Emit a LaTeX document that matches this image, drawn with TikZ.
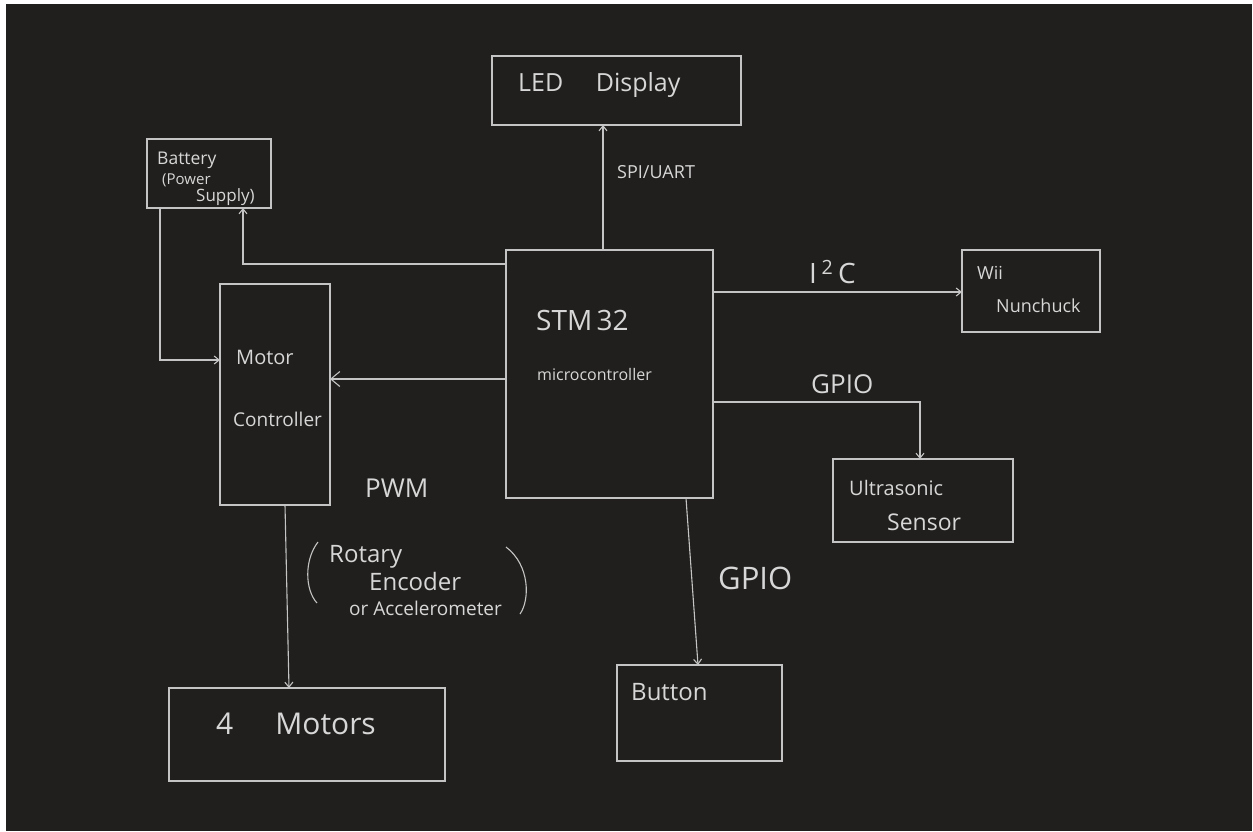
\documentclass[tikz,border=0pt]{standalone}
\usepackage{fontspec}
\setmainfont{Open Sans}
\usetikzlibrary{arrows.meta}
\definecolor{bg}{RGB}{32,31,29}
\definecolor{ln}{RGB}{196,196,196}
\definecolor{tx}{RGB}{215,215,215}
\newcommand{\fs}[1]{\fontsize{#1}{#1}\selectfont}
\begin{document}
\begin{tikzpicture}[x=1pt,y=-1pt,
  box/.style={draw=ln,line width=1.2pt,inner sep=0pt,outer sep=0pt},
  lbl/.style={text=tx,inner sep=0pt,anchor=west},
  wire/.style={draw=ln,line width=1.1pt},
  arr/.style={wire,-{Straight Barb[length=5pt,width=8pt]}},
  bigarr/.style={wire,-{Straight Barb[length=9pt,width=15pt]}}]
\useasboundingbox (0,0) rectangle (1253,831);
\fill[white] (0,0) rectangle (1253,831);
\fill[bg] (6,4) rectangle (1252,831);
% boxes
\node[box,minimum width=249pt,minimum height=69pt,anchor=north west] (led) at (492,56) {};
\node[box,minimum width=124pt,minimum height=69pt,anchor=north west] (bat) at (147,139) {};
\node[box,minimum width=207pt,minimum height=248pt,anchor=north west] (stm) at (506,250) {};
\node[box,minimum width=110pt,minimum height=221pt,anchor=north west] (mc) at (220,284) {};
\node[box,minimum width=138pt,minimum height=82pt,anchor=north west] (wii) at (962,250) {};
\node[box,minimum width=180pt,minimum height=83pt,anchor=north west] (us) at (833,459) {};
\node[box,minimum width=165pt,minimum height=96pt,anchor=north west] (btn) at (617,665) {};
\node[box,minimum width=276pt,minimum height=93pt,anchor=north west] (mot) at (169,688) {};
% texts
\node[lbl,font=\fs{25}] (tled) at (518,85) {LED\hspace{1.3em}Display};
\node[lbl,font=\fs{17.5}] (tbat1) at (157,160) {Battery};
\node[lbl,font=\fs{15}] (tbat2) at (162,180) {(Power};
\node[lbl,font=\fs{17}] (tbat3) at (196,197) {Supply)};
\node[lbl,font=\fs{28}] (tstm) at (536,320) {STM\hspace{0.15em}32};
\node[lbl,font=\fs{16}] (tmcu) at (537,374) {microcontroller};
\node[lbl,font=\fs{20}] (tmot) at (236,357) {Motor};
\node[lbl,font=\fs{19}] (tctl) at (233,419) {Controller};
\node[lbl,font=\fs{18}] (twii) at (977,273) {Wii};
\node[lbl,font=\fs{18}] (tnun) at (996,306) {Nunchuck};
\node[lbl,font=\fs{20}] (tus) at (849,488) {Ultrasonic};
\node[lbl,font=\fs{23}] (tsen) at (887,522) {Sensor};
\node[lbl,font=\fs{24}] (tbtn) at (631,692) {Button};
\node[lbl,font=\fs{30}] (tmots) at (216,724) {4\hspace{1.4em}Motors};
% connector labels
\node[lbl,font=\fs{18}] (lspi) at (617,172) {SPI/UART};
\node[lbl,font=\fs{28}] (li2c) at (809,272) {I\,\textsuperscript{2}\,C};
\node[lbl,font=\fs{26}] (lgp1) at (811,384) {GPIO};
\node[lbl,font=\fs{31}] (lgp2) at (718,578) {GPIO};
\node[lbl,font=\fs{26}] (lpwm) at (365,488) {PWM};
\node[lbl,font=\fs{24}] (lrot) at (329,557) {Rotary};
\node[lbl,font=\fs{24}] (lenc) at (369,581) {Encoder};
\node[lbl,font=\fs{19}] (lacc) at (349,608) {or Accelerometer};
\draw[wire] (318,542) .. controls (304,560) and (305,590) .. (317,603);
\draw[wire] (506,547) .. controls (530,565) and (530,600) .. (520,614);
% connectors
\draw[arr] ([xshift=-6.5pt]stm.north) -- ([xshift=-13.5pt]led.south);
\coordinate (c1) at (243,264);
\draw[arr] (stm.west |- c1) -- (c1) -- (bat.south -| c1);
\coordinate (c2) at (160,360);
\draw[arr] (bat.south -| c2) -- (c2) -- (mc.west |- c2);
\coordinate (c3) at (400,379);
\draw[bigarr] (stm.west |- c3) -- (mc.east |- c3);
\coordinate (c4) at (800,292);
\draw[arr] (stm.east |- c4) -- (wii.west |- c4);
\coordinate (c5) at (920,402);
\draw[arr] (stm.east |- c5) -- (c5) -- (us.north -| c5);
\draw[arr] ([xshift=76.5pt]stm.south) -- ([xshift=-1.5pt]btn.north);
\draw[arr] ([xshift=10pt]mc.south) -- ([xshift=-18pt]mot.north);
\end{tikzpicture}
\end{document}
